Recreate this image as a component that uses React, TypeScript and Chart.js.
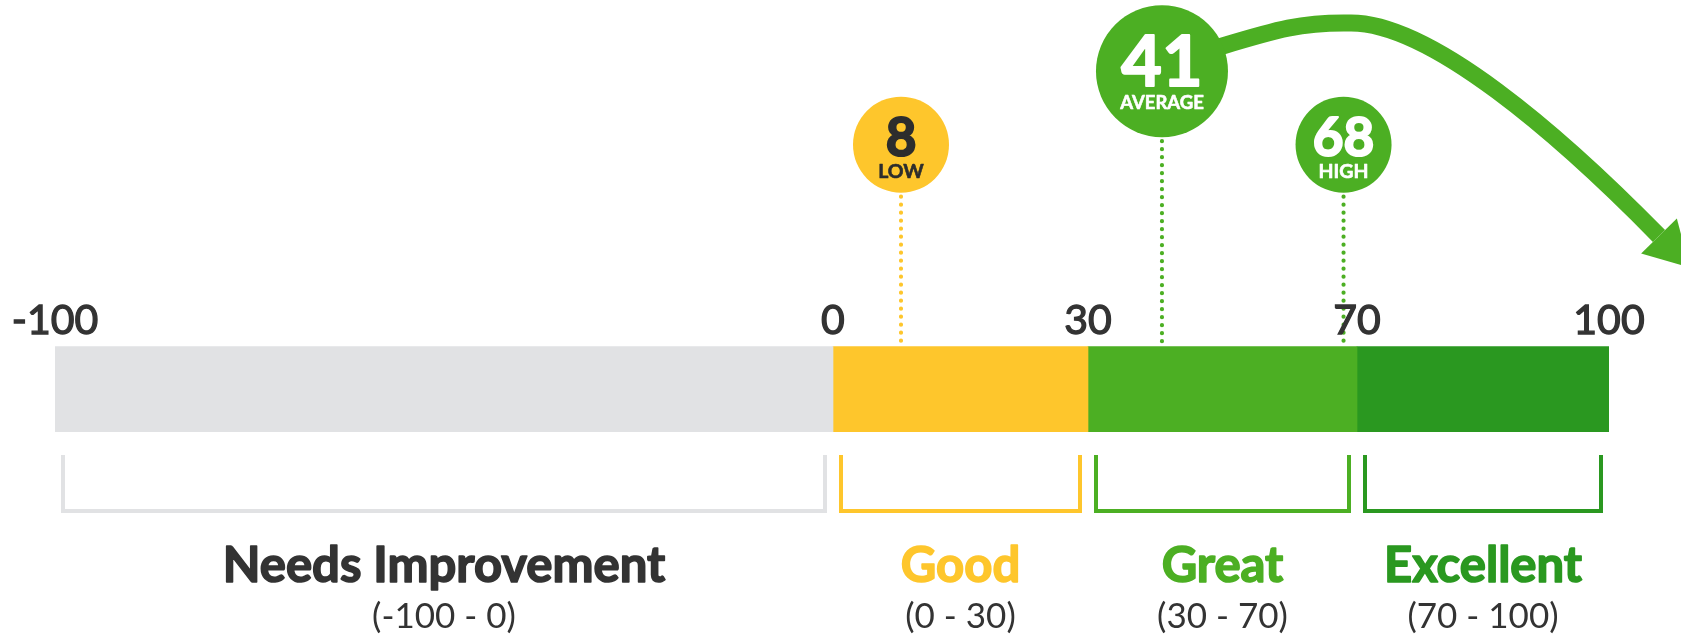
import React, { useEffect, useRef } from 'react';
import { Chart, registerables } from 'chart.js';

Chart.register(...registerables);

// ---- data ----
const BOUNDS = [-100, 0, 30, 70, 100];
const TICK_LABELS = ['-100', '0', '30', '70', '100'];
const CATEGORY_NAMES = ['Needs Improvement', 'Good', 'Great', 'Excellent'];
const CATEGORY_RANGES = ['(-100 - 0)', '(0 - 30)', '(30 - 70)', '(70 - 100)'];
const MARKER_VALUES = [8, 41, 68];
const MARKER_LABELS = ['LOW', 'AVERAGE', 'HIGH'];

// ---- style / layout ----
const SEG_COLORS = ['#e1e2e4', '#fec62c', '#4caf23', '#2a9820'];
const LABEL_COLORS = ['#333333', '#fec62c', '#4caf23', '#2a9820'];
// visual share of each segment along the bar (the gauge is not drawn to a linear scale)
const SEG_SHARE = [778, 255, 269, 252];
const TOTAL_SHARE = SEG_SHARE.reduce((a, b) => a + b, 0);
const FONT = 'Lato, "Open Sans", sans-serif';

function segIndex(v: number): number {
  for (let i = 0; i < SEG_SHARE.length; i++) {
    if (v <= BOUNDS[i + 1]) return i;
  }
  return SEG_SHARE.length - 1;
}

function warp(v: number): number {
  const i = segIndex(v);
  let acc = 0;
  for (let k = 0; k < i; k++) acc += SEG_SHARE[k];
  const a = BOUNDS[i];
  const b = BOUNDS[i + 1];
  const f = Math.max(0, Math.min(1, (v - a) / (b - a)));
  return (acc + f * SEG_SHARE[i]) / TOTAL_SHARE;
}

function isLight(hex: string): boolean {
  const n = parseInt(hex.slice(1), 16);
  const r = (n >> 16) & 255, g = (n >> 8) & 255, b = n & 255;
  return 0.299 * r + 0.587 * g + 0.114 * b > 170;
}

function heavyText(ctx: CanvasRenderingContext2D, text: string, x: number, y: number, color: string, stroke: number) {
  ctx.fillStyle = color;
  ctx.fillText(text, x, y);
  if (stroke > 0) {
    ctx.strokeStyle = color;
    ctx.lineWidth = stroke;
    ctx.lineJoin = 'round';
    ctx.setLineDash([]);
    ctx.strokeText(text, x, y);
  }
}

function markerGeometry(chart: any) {
  const xs = chart.scales.x;
  const top = chart.chartArea.top;
  return MARKER_VALUES.map((v, k) => {
    const big = MARKER_LABELS[k] === 'AVERAGE';
    const r = big ? 66 : 48;
    const cy = big ? top - 275 : top - 201.5;
    return { v, k, big, r, cy, cx: xs.getPixelForValue(warp(v)), color: SEG_COLORS[segIndex(v)] };
  });
}

const overlayPlugin = {
  id: 'gaugeOverlay',
  beforeDraw(chart: any) {
    // dotted stems (drawn beneath the axis labels)
    const { ctx, chartArea } = chart;
    if (!chartArea) return;
    ctx.save();
    markerGeometry(chart).forEach((m) => {
      ctx.strokeStyle = m.color;
      ctx.lineWidth = 4.2;
      ctx.lineCap = 'round';
      ctx.setLineDash([0, 8]);
      ctx.beginPath();
      ctx.moveTo(m.cx, m.cy + m.r + 4);
      ctx.lineTo(m.cx, chartArea.top - 2);
      ctx.stroke();
    });
    ctx.restore();
  },
  afterDatasetsDraw(chart: any) {
    const { ctx, chartArea } = chart;
    const xs = chart.scales.x;
    const px = (v: number) => xs.getPixelForValue(warp(v));
    const bottom = chartArea.bottom;
    ctx.save();

    // brackets and category labels
    for (let i = 0; i < CATEGORY_NAMES.length; i++) {
      const l = px(BOUNDS[i]) + 8;
      const r = px(BOUNDS[i + 1]) - 8;
      const bt = bottom + 23;
      const bb = bottom + 79;
      ctx.strokeStyle = SEG_COLORS[i];
      ctx.lineWidth = 4;
      ctx.lineJoin = 'miter';
      ctx.setLineDash([]);
      ctx.beginPath();
      ctx.moveTo(l, bt);
      ctx.lineTo(l, bb);
      ctx.lineTo(r, bb);
      ctx.lineTo(r, bt);
      ctx.stroke();

      const cx = (px(BOUNDS[i]) + px(BOUNDS[i + 1])) / 2;
      ctx.textAlign = 'center';
      ctx.textBaseline = 'alphabetic';
      ctx.font = `bold 49px ${FONT}`;
      heavyText(ctx, CATEGORY_NAMES[i], cx, bottom + 150, LABEL_COLORS[i], 1.6);
      ctx.font = `400 35px ${FONT}`;
      heavyText(ctx, CATEGORY_RANGES[i], cx, bottom + 196, '#333333', 0);
    }

    const markers = markerGeometry(chart);
    ctx.setLineDash([]);
    ctx.lineCap = 'butt';

    // decorative arrow from the average marker
    const avg = markers.find((m) => m.big);
    if (avg) {
      const R = chartArea.right;
      const mx = avg.cx, my = avg.cy;
      const ex = R + 50, ey = 236;
      const c2x = R - 49, c2y = 135;
      ctx.strokeStyle = SEG_COLORS[2];
      ctx.lineWidth = 17;
      ctx.lineJoin = 'round';
      ctx.beginPath();
      ctx.moveTo(mx + 50, my - 22);
      ctx.bezierCurveTo(mx + 110, my - 40, R - 310, 22, R - 259, 23);
      ctx.bezierCurveTo(R - 179, 22, c2x, c2y, ex, ey);
      ctx.stroke();
      const dx = ex - c2x, dy = ey - c2y;
      const len = Math.hypot(dx, dy);
      const ux = dx / len, uy = dy / len;
      const pxv = uy, pyv = -ux;
      ctx.fillStyle = SEG_COLORS[2];
      ctx.beginPath();
      ctx.moveTo(ex + pxv * 25, ey + pyv * 25);
      ctx.lineTo(ex + ux * 44, ey + uy * 44);
      ctx.lineTo(ex - pxv * 25, ey - pyv * 25);
      ctx.closePath();
      ctx.fill();
    }

    // marker circles and text
    markers.forEach((m) => {
      ctx.fillStyle = m.color;
      ctx.beginPath();
      ctx.arc(m.cx, m.cy, m.r, 0, Math.PI * 2);
      ctx.fill();
      const tc = isLight(m.color) ? '#2d2d2d' : '#ffffff';
      ctx.textAlign = 'center';
      ctx.textBaseline = 'alphabetic';
      ctx.font = `bold ${m.big ? 70 : 53}px ${FONT}`;
      heavyText(ctx, String(m.v), m.cx, m.cy + (m.big ? 15 : 11.5), tc, 2);
      ctx.font = `bold ${m.big ? 18.5 : 19.5}px ${FONT}`;
      heavyText(ctx, MARKER_LABELS[m.k], m.cx, m.cy + (m.big ? 38 : 33), tc, 0.6);
    });

    ctx.restore();
  },
};

export default function App() {
  const canvasRef = useRef<HTMLCanvasElement | null>(null);

  useEffect(() => {
    let chart: Chart | null = null;
    let cancelled = false;

    const build = () => {
      if (cancelled || !canvasRef.current) return;
      const datasets = CATEGORY_NAMES.map((name, i) => ({
        label: name,
        data: [[warp(BOUNDS[i]), warp(BOUNDS[i + 1])]] as any,
        backgroundColor: SEG_COLORS[i],
        borderWidth: 0,
        borderSkipped: false,
        grouped: false,
        barPercentage: 1,
        categoryPercentage: 1,
      }));
      chart = new Chart(canvasRef.current, {
        type: 'bar',
        data: { labels: ['NPS'], datasets },
        options: {
          indexAxis: 'y',
          responsive: false,
          animation: false,
          devicePixelRatio: 1,
          layout: { padding: { left: 55, right: 72, top: 295, bottom: 204 } },
          plugins: { legend: { display: false }, tooltip: { enabled: false } },
          scales: {
            x: {
              type: 'linear',
              position: 'top',
              min: 0,
              max: 1,
              grid: { display: false, drawTicks: false },
              border: { display: false },
              afterBuildTicks: (s: any) => {
                s.ticks = BOUNDS.map((b) => ({ value: warp(b) }));
              },
              ticks: {
                autoSkip: false,
                maxRotation: 0,
                padding: 1,
                color: '#333333',
                textStrokeColor: '#333333',
                textStrokeWidth: 1.3,
                font: { family: FONT, size: 41, weight: '400' },
                callback: (_v: any, i: number) => TICK_LABELS[i],
              },
            },
            y: { type: 'category', display: false },
          },
        } as any,
        plugins: [overlayPlugin],
      });
    };

    const fonts = (document as any).fonts;
    if (fonts && fonts.load) {
      Promise.all([
        fonts.load(`bold 49px Lato`),
        fonts.load(`400 41px Lato`),
        fonts.load(`400 35px Lato`),
      ]).then(build, build);
    } else {
      build();
    }

    return () => {
      cancelled = true;
      if (chart) chart.destroy();
    };
  }, []);

  return (
    <div style={{ position: 'absolute', left: 0, top: 0, width: 1681, height: 636, background: '#ffffff', overflow: 'hidden' }}>
      <canvas ref={canvasRef} width={1681} height={636} style={{ display: 'block' }} />
    </div>
  );
}
